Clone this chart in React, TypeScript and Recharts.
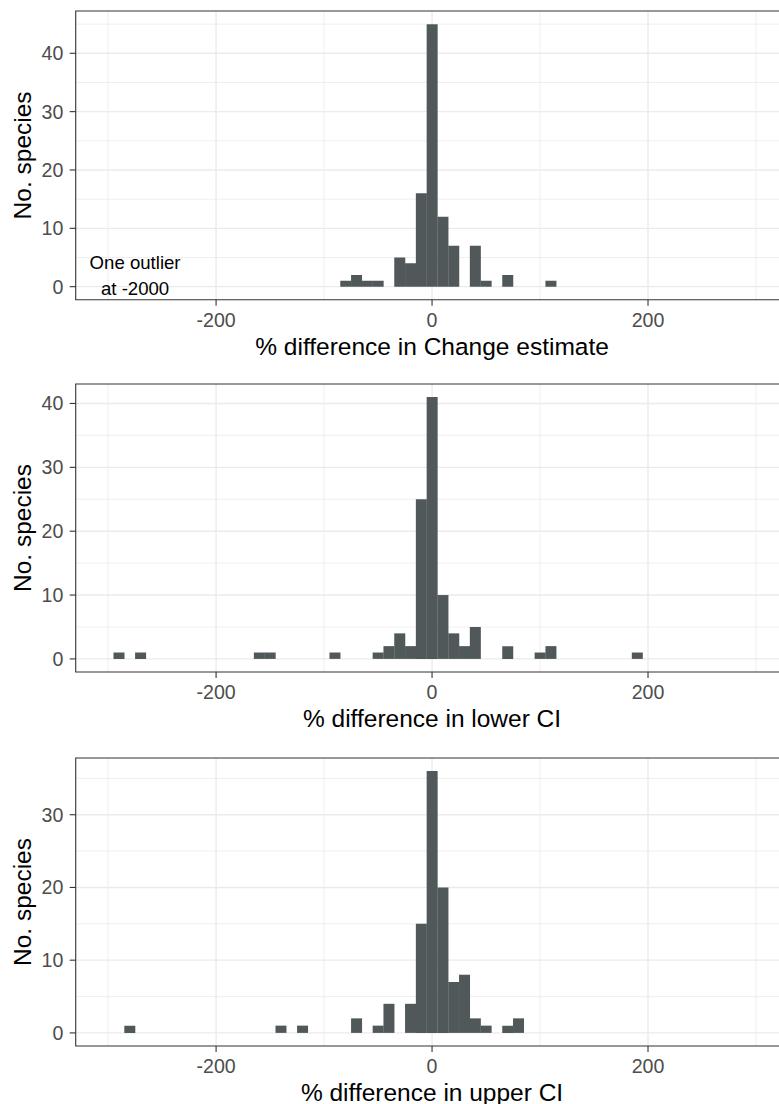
import React from 'react';
import { BarChart, Bar, XAxis, YAxis, CartesianGrid, ReferenceArea, ReferenceDot } from 'recharts';

// ---- data ----
const binCenters = [
  -290, -280, -270, -260, -250, -240, -230, -220, -210, -200,
  -190, -180, -170, -160, -150, -140, -130, -120, -110, -100,
  -90, -80, -70, -60, -50, -40, -30, -20, -10, 0,
  10, 20, 30, 40, 50, 60, 70, 80, 90, 100,
  110, 120, 130, 140, 150, 160, 170, 180, 190,
];

const changeCounts = [
  0, 0, 0, 0, 0, 0, 0, 0, 0, 0,
  0, 0, 0, 0, 0, 0, 0, 0, 0, 0,
  0, 1, 2, 1, 1, 0, 5, 4, 16, 45,
  12, 7, 0, 7, 1, 0, 2, 0, 0, 0,
  1, 0, 0, 0, 0, 0, 0, 0, 0,
];

const lowerCounts = [
  1, 0, 1, 0, 0, 0, 0, 0, 0, 0,
  0, 0, 0, 1, 1, 0, 0, 0, 0, 0,
  1, 0, 0, 0, 1, 2, 4, 2, 25, 41,
  10, 4, 2, 5, 0, 0, 2, 0, 0, 1,
  2, 0, 0, 0, 0, 0, 0, 0, 1,
];

const upperCounts = [
  0, 1, 0, 0, 0, 0, 0, 0, 0, 0,
  0, 0, 0, 0, 0, 1, 0, 1, 0, 0,
  0, 0, 2, 0, 1, 4, 0, 4, 15, 36,
  20, 7, 8, 2, 1, 0, 1, 2, 0, 0,
  0, 0, 0, 0, 0, 0, 0, 0, 0,
];

const xTicks = [-200, 0, 200];
const xMinor = [-300, -100, 100, 300];
const xDomain: [number, number] = [-330, 330];

const yTicks40 = [0, 10, 20, 30, 40];
const yTicks30 = [0, 10, 20, 30];
const yMinor = [5, 15, 25, 35, 45];

const titles = [
  '% difference in Change estimate',
  '% difference in lower CI',
  '% difference in upper CI',
];
const yLabel = 'No. species';
const outlierNote = ['One outlier', 'at -2000'];
const outlierPos = { x: -275, y: 0 };

// ---- style ----
const FONT = '"Liberation Sans", Arial, Helvetica, sans-serif';
const BAR = '#505859';
const GRID = '#EBEBEB';
const DARK = '#333333';
const TICK_TEXT = '#4D4D4D';
const CHART_W = 800;
const X_AXIS_H = 68.2;

type PanelProps = {
  counts: number[];
  yTicks: number[];
  title: string;
  top: number;
  plotH: number;
  note?: boolean;
};

function Panel({ counts, yTicks, title, top, plotH, note }: PanelProps) {
  const data = binCenters.map((x, i) => ({ x, n: counts[i] }));
  const yMax = Math.max(...counts);
  const pad = yMax * 0.05;
  const yDomain: [number, number] = [-pad, yMax + pad];
  const minor = yMinor.filter((v) => v < yMax + pad);
  const height = 11 + plotH + X_AXIS_H;

  return (
    <div style={{ position: 'absolute', left: 0, top, width: CHART_W, height }}>
      <BarChart
        width={CHART_W}
        height={height}
        data={data}
        margin={{ top: 11, right: 11.6, bottom: 0, left: 15.7 }}
        barCategoryGap={0}
        barGap={0}
      >
        <CartesianGrid stroke={GRID} strokeWidth={0.8} verticalValues={xMinor} horizontalValues={minor} />
        <CartesianGrid stroke={GRID} strokeWidth={1.4} verticalValues={xTicks} horizontalValues={yTicks} />
        <XAxis
          type="number"
          dataKey="x"
          domain={xDomain}
          allowDataOverflow
          ticks={xTicks}
          interval={0}
          height={X_AXIS_H}
          tickSize={6}
          tickMargin={7}
          axisLine={false}
          tickLine={{ stroke: DARK, strokeWidth: 1.1 }}
          tick={{ fontSize: 19.6, fill: TICK_TEXT }}
          label={{ value: title, position: 'insideBottom', offset: 13, fontSize: 24.5, fill: '#000000' }}
        />
        <YAxis
          type="number"
          domain={yDomain}
          allowDataOverflow
          ticks={yTicks}
          interval={0}
          width={60}
          tickSize={6}
          tickMargin={6.4}
          axisLine={false}
          tickLine={{ stroke: DARK, strokeWidth: 1.1 }}
          tick={{ fontSize: 19.6, fill: TICK_TEXT }}
          label={{
            value: yLabel,
            angle: -90,
            position: 'insideLeft',
            offset: 6.6,
            fontSize: 24.5,
            fill: '#000000',
            style: { textAnchor: 'middle' },
          }}
        />
        <Bar dataKey="n" fill={BAR} isAnimationActive={false} />
        <ReferenceArea
          x1={xDomain[0]}
          x2={xDomain[1]}
          y1={yDomain[0]}
          y2={yDomain[1]}
          fill="none"
          fillOpacity={0}
          stroke={DARK}
          strokeWidth={1.1}
          ifOverflow="visible"
        />
        {note ? (
          <ReferenceDot
            x={outlierPos.x}
            y={outlierPos.y}
            r={0}
            ifOverflow="visible"
            shape={(p: any) => (
              <g>
                <text x={p.cx} y={p.cy - 17.4} textAnchor="middle" fontSize={18.6} fill="#000000">
                  {outlierNote[0]}
                </text>
                <text x={p.cx} y={p.cy + 8.8} textAnchor="middle" fontSize={18.6} fill="#000000">
                  {outlierNote[1]}
                </text>
              </g>
            )}
          />
        ) : null}
      </BarChart>
    </div>
  );
}

export default function App() {
  return (
    <div
      style={{
        position: 'absolute',
        left: 0,
        top: 0,
        width: 779,
        height: 1104,
        overflow: 'hidden',
        background: '#ffffff',
        fontFamily: FONT,
      }}
    >
      <Panel counts={changeCounts} yTicks={yTicks40} title={titles[0]} top={0} plotH={288.8} note />
      <Panel counts={lowerCounts} yTicks={yTicks40} title={titles[1]} top={373} plotH={288} />
      <Panel counts={upperCounts} yTicks={yTicks30} title={titles[2]} top={747} plotH={288} />
    </div>
  );
}
